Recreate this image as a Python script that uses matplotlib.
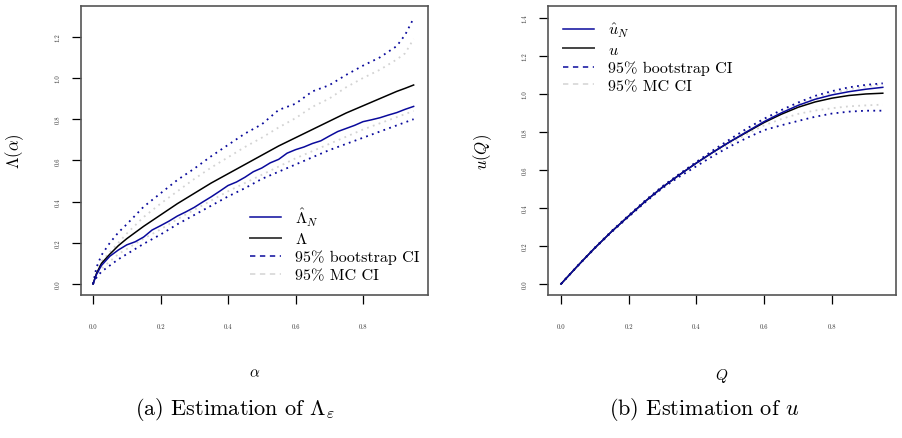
import matplotlib
matplotlib.use("Agg")
import matplotlib.pyplot as plt
from matplotlib.lines import Line2D
import numpy as np

plt.rcParams["font.family"] = ["cmr10", "DejaVu Serif"]
plt.rcParams["mathtext.fontset"] = "cm"
plt.rcParams["axes.unicode_minus"] = False
plt.rcParams["axes.formatter.use_mathtext"] = True

# ---- panel (a): Lambda(alpha) ----
alpha = [0, 0.01, 0.025, 0.05, 0.075, 0.1, 0.15, 0.2, 0.25, 0.3, 0.35, 0.4,
         0.45, 0.5, 0.55, 0.6, 0.65, 0.7, 0.75, 0.8, 0.85, 0.9, 0.925, 0.95]
lam_true = [0, 0.05, 0.10, 0.145, 0.186, 0.22, 0.28, 0.335, 0.39, 0.44, 0.49, 0.535,
            0.58, 0.625, 0.67, 0.71, 0.75, 0.79, 0.83, 0.865, 0.90, 0.935, 0.95, 0.966]
boot_up_a = [0, 0.08, 0.14, 0.20, 0.25, 0.29, 0.375, 0.44, 0.505, 0.56, 0.62, 0.675,
             0.73, 0.775, 0.845, 0.875, 0.935, 0.965, 1.015, 1.06, 1.10, 1.155, 1.21, 1.29]
boot_lo_a = [0, 0.03, 0.06, 0.09, 0.12, 0.145, 0.195, 0.24, 0.29, 0.335, 0.38, 0.425,
             0.465, 0.51, 0.545, 0.58, 0.615, 0.65, 0.68, 0.71, 0.74, 0.77, 0.785, 0.80]
mc_up_a = [0, 0.06, 0.11, 0.155, 0.2, 0.245, 0.325, 0.39, 0.45, 0.51, 0.565, 0.615,
           0.665, 0.71, 0.76, 0.805, 0.86, 0.9, 0.955, 1.0, 1.04, 1.09, 1.12, 1.19]
mc_lo_a = [0, 0.04, 0.075, 0.11, 0.145, 0.17, 0.22, 0.265, 0.315, 0.36, 0.405, 0.45,
           0.49, 0.53, 0.57, 0.61, 0.645, 0.68, 0.715, 0.75, 0.78, 0.81, 0.825, 0.84]

# estimator on a finer grid (step-like wiggles)
alpha_hat = [0, 0.01, 0.025, 0.05, 0.075, 0.1, 0.125, 0.15, 0.175, 0.2, 0.225, 0.25,
             0.275, 0.3, 0.325, 0.35, 0.375, 0.4, 0.425, 0.45, 0.475, 0.5, 0.525, 0.55,
             0.575, 0.6, 0.625, 0.65, 0.675, 0.7, 0.725, 0.75, 0.775, 0.8, 0.825, 0.85,
             0.875, 0.9, 0.925, 0.95]
lam_hat = [0, 0.045, 0.09, 0.135, 0.165, 0.19, 0.205, 0.228, 0.262, 0.283, 0.305, 0.33,
           0.35, 0.372, 0.398, 0.423, 0.45, 0.478, 0.495, 0.518, 0.545, 0.563, 0.588, 0.605,
           0.635, 0.652, 0.665, 0.682, 0.695, 0.718, 0.74, 0.755, 0.77, 0.788, 0.797, 0.807,
           0.82, 0.832, 0.848, 0.862]

# ---- panel (b): u(Q) ----
Q = [0, 0.05, 0.1, 0.15, 0.2, 0.25, 0.3, 0.35, 0.4, 0.45, 0.5, 0.55, 0.6, 0.65,
     0.7, 0.75, 0.8, 0.85, 0.9, 0.95]
u_true = [0, 0.097, 0.19, 0.277, 0.358, 0.437, 0.51, 0.575, 0.637, 0.695, 0.75, 0.80,
          0.85, 0.893, 0.93, 0.958, 0.978, 0.992, 1.0, 1.004]
u_hat = [0, 0.097, 0.19, 0.277, 0.358, 0.437, 0.51, 0.575, 0.637, 0.695, 0.75, 0.803,
         0.855, 0.90, 0.94, 0.972, 0.995, 1.012, 1.025, 1.035]
boot_up_b = [0, 0.098, 0.192, 0.28, 0.362, 0.442, 0.515, 0.58, 0.643, 0.705, 0.763, 0.82,
             0.87, 0.915, 0.955, 0.99, 1.015, 1.035, 1.048, 1.056]
boot_lo_b = [0, 0.096, 0.188, 0.274, 0.354, 0.432, 0.505, 0.565, 0.62, 0.675, 0.725, 0.77,
             0.81, 0.835, 0.858, 0.88, 0.897, 0.907, 0.912, 0.912]
mc_up_b = [0, 0.097, 0.191, 0.278, 0.36, 0.44, 0.513, 0.578, 0.64, 0.7, 0.757, 0.812,
           0.862, 0.905, 0.945, 0.978, 1.005, 1.025, 1.04, 1.05]
mc_lo_b = [0, 0.097, 0.19, 0.276, 0.357, 0.435, 0.507, 0.571, 0.632, 0.688, 0.74, 0.79,
           0.835, 0.868, 0.895, 0.913, 0.925, 0.935, 0.94, 0.944]

BLUE = "#0a0a9c"
GREY = "#d3d3d3"
dot = (0, (1, 2.4))

fig = plt.figure(figsize=(9.03, 4.39), dpi=100)
ax1 = fig.add_axes([81 / 903, 1 - 296 / 439, 347 / 903, 289 / 439])
ax2 = fig.add_axes([548 / 903, 1 - 296 / 439, 348 / 903, 289 / 439])


def style(ax, yticks, xlim, ylim):
    ax.set_xlim(*xlim)
    ax.set_ylim(*ylim)
    ax.set_xticks([0, 0.2, 0.4, 0.6, 0.8])
    ax.set_xticklabels(["0.0", "0.2", "0.4", "0.6", "0.8"])
    ax.set_yticks(yticks)
    ax.set_yticklabels(["%.1f" % v for v in yticks], rotation=90, va="center")
    ax.tick_params(axis="both", direction="out", length=6.5, width=0.9,
                   labelsize=4.8, colors="black", labelcolor="#333333")
    ax.tick_params(axis="x", pad=14)
    ax.tick_params(axis="y", pad=8)
    for s in ax.spines.values():
        s.set_color("#555555")
        s.set_linewidth(1.2)


# panel (a)
ax1.plot(alpha, mc_up_a, color=GREY, lw=1.3, ls=dot)
ax1.plot(alpha, mc_lo_a, color=GREY, lw=1.3, ls=dot)
ax1.plot(alpha, boot_up_a, color=BLUE, lw=1.3, ls=dot)
ax1.plot(alpha, boot_lo_a, color=BLUE, lw=1.3, ls=dot)
ax1.plot(alpha, lam_true, color="black", lw=1.1)
ax1.plot(alpha_hat, lam_hat, color=BLUE, lw=1.1)
style(ax1, [0, 0.2, 0.4, 0.6, 0.8, 1.0, 1.2], (-0.0356, 0.9926), (-0.0534, 1.3495))
ax1.set_xlabel(r"$\alpha$", fontsize=11)
ax1.set_ylabel(r"$\Lambda(\alpha)$", fontsize=12)
ax1.xaxis.set_label_coords(0.499, -0.245)
ax1.yaxis.set_label_coords(-0.158, 0.5)

# panel (b)
ax2.plot(Q, mc_up_b, color=GREY, lw=1.3, ls=dot)
ax2.plot(Q, mc_lo_b, color=GREY, lw=1.3, ls=dot)
ax2.plot(Q, boot_up_b, color=BLUE, lw=1.3, ls=dot)
ax2.plot(Q, boot_lo_b, color=BLUE, lw=1.3, ls=dot)
ax2.plot(Q, u_true, color="black", lw=1.1)
ax2.plot(Q, u_hat, color=BLUE, lw=1.1)
style(ax2, [0, 0.2, 0.4, 0.6, 0.8, 1.0, 1.2, 1.4], (-0.0384, 0.989), (-0.058, 1.463))
ax2.set_xlabel(r"$Q$", fontsize=11)
ax2.set_ylabel(r"$u(Q)$", fontsize=12)
ax2.xaxis.set_label_coords(0.499, -0.245)
ax2.yaxis.set_label_coords(-0.155, 0.5)


def handles(est_label, true_label):
    return [Line2D([], [], color=BLUE, lw=1.1, label=est_label),
            Line2D([], [], color="#444444", lw=1.4, label=true_label),
            Line2D([], [], color=BLUE, lw=1.1, ls=(0, (3.5, 3)), label="95% bootstrap CI"),
            Line2D([], [], color=GREY, lw=1.1, ls=(0, (3.5, 3)), label="95% MC CI")]


leg_kw = dict(frameon=False, fontsize=11.6, handlelength=1.9, handletextpad=0.9,
              labelspacing=0.22, borderpad=0, borderaxespad=0, loc="upper left")
ax1.legend(handles=handles(r"$\hat{\Lambda}_N$", r"$\Lambda$"),
           bbox_to_anchor=(0.487, 0.31), **leg_kw)
ax2.legend(handles=handles(r"$\hat{u}_N$", r"$u$"),
           bbox_to_anchor=(0.043, 0.948), **leg_kw)

fig.text(235 / 903, 1 - 410 / 439, r"(a) Estimation of $\Lambda_\varepsilon$",
         ha="center", va="center", fontsize=16)
fig.text(704 / 903, 1 - 410 / 439, r"(b) Estimation of $u$",
         ha="center", va="center", fontsize=16)

fig.savefig("out.png", dpi=100)
